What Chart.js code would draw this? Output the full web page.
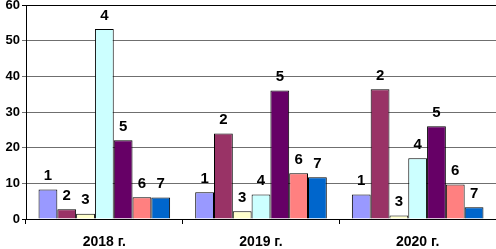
<!DOCTYPE html>
<html>
<head>
<meta charset="utf-8">
<script src="https://cdn.jsdelivr.net/npm/chart.js@4/dist/chart.umd.min.js"></script>
<style>
  html, body { margin: 0; padding: 0; background: #fff; }
  #wrap { width: 496px; height: 249px; }
</style>
</head>
<body>
<div id="wrap"><canvas id="chart"></canvas></div>
<script>
// data
const years = ["2018 г.", "2019 г.", "2020 г."];
const seriesNames = ["1", "2", "3", "4", "5", "6", "7"];
const s1 = [8.3, 7.5, 6.9];
const s2 = [2.7, 24, 36.4];
const s3 = [1.5, 2.2, 1.0];
const s4 = [53.3, 6.9, 17];
const s5 = [22.1, 36, 26];
const s6 = [6.1, 12.8, 9.7];
const s7 = [6.0, 11.7, 3.3];
const yTicks = [0, 10, 20, 30, 40, 50, 60];

const colors = ["#9999FF", "#993366", "#FFFFCC", "#CCFFFF", "#660066", "#FF8080", "#0066CC"];
const allSeries = [s1, s2, s3, s4, s5, s6, s7];

// numbers above the bars
const barLabels = {
  id: "barLabels",
  afterDatasetsDraw(chart) {
    const ctx = chart.ctx;
    ctx.save();
    ctx.font = "bold 15px 'Liberation Sans', Arial, sans-serif";
    ctx.fillStyle = "#000";
    ctx.textAlign = "center";
    ctx.textBaseline = "bottom";
    chart.data.datasets.forEach((ds, i) => {
      chart.getDatasetMeta(i).data.forEach((bar) => {
        ctx.fillText(ds.label, bar.x, bar.y - 6);
      });
    });
    ctx.restore();
  },
};

const ctx = document.getElementById("chart").getContext("2d");
new Chart(ctx, {
  type: "bar",
  data: {
    labels: years,
    datasets: allSeries.map((vals, i) => ({
      label: seriesNames[i],
      data: vals,
      backgroundColor: colors[i],
      borderColor: "#000",
      borderWidth: 1,
      barPercentage: 1,
      categoryPercentage: 0.84,
    })),
  },
  options: {
    responsive: true,
    maintainAspectRatio: false,
    animation: false,
    layout: { padding: { top: 5, right: 0, left: 0, bottom: 0 } },
    plugins: {
      legend: { display: false },
      tooltip: { enabled: false },
    },
    scales: {
      x: {
        afterFit(scale) {
          scale.height = 30;
        },
        grid: {
          offset: true,
          drawOnChartArea: false,
          color: "#000",
          tickLength: 5,
        },
        border: { color: "#000", width: 1 },
        ticks: {
          color: "#000",
          padding: 10,
          font: { family: "'Liberation Sans', Arial, sans-serif", size: 14, weight: "bold" },
        },
      },
      y: {
        min: 0,
        max: 60,
        afterBuildTicks(scale) {
          scale.ticks = yTicks.map((v) => ({ value: v }));
        },
        afterFit(scale) {
          scale.width = 26;
          scale.paddingTop = 0;
        },
        grid: {
          color: (c) => (c.tick && (c.tick.value === 60 || c.tick.value === 0) ? "#000" : "#6f6f6f"),
          tickLength: 4,
        },
        border: { color: "#000", width: 1 },
        ticks: {
          color: "#000",
          padding: 2,
          font: { family: "'Liberation Sans', Arial, sans-serif", size: 13, weight: "bold" },
        },
      },
    },
  },
  plugins: [barLabels],
});
</script>
</body>
</html>
